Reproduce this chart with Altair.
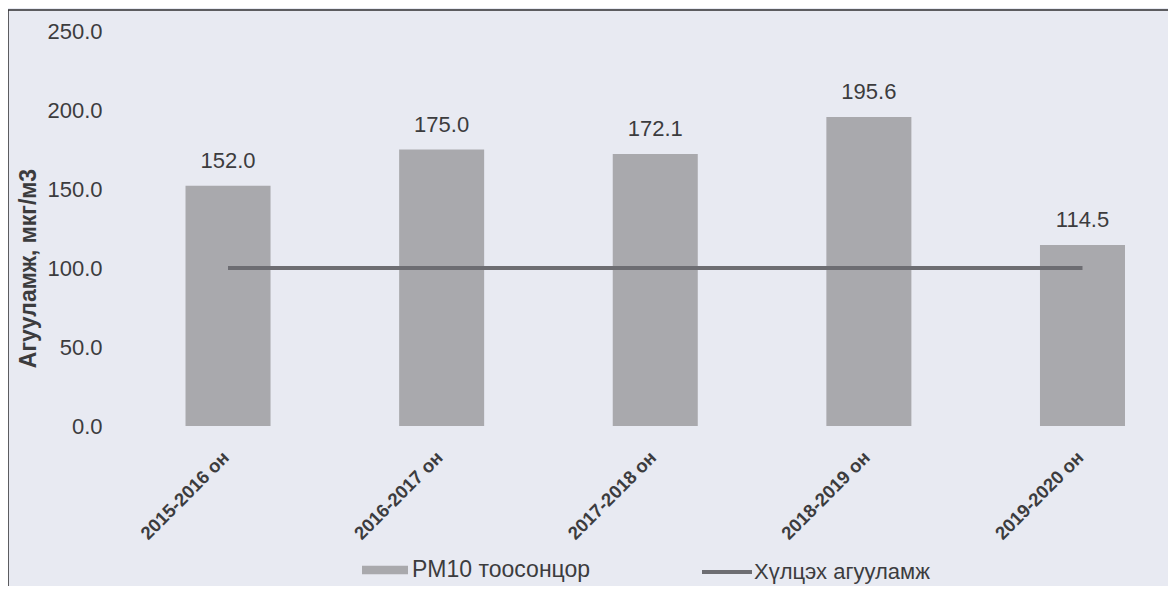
import altair as alt
import pandas as pd

seasons = ["2015-2016 он", "2016-2017 он", "2017-2018 он", "2018-2019 он", "2019-2020 он"]
pm10 = [152.0, 175.0, 172.1, 195.6, 114.5]
norm = [100, 100, 100, 100, 100]
bar_name = "PM10 тоосонцор"
line_name = "Хүлцэх агууламж"

df = pd.DataFrame({"season": seasons, "pm10": pm10, "norm": norm,
                   "bar": [bar_name] * 5, "line": [line_name] * 5})

W, H = 1004, 395
TXT = "#3c3c3e"
FONT = "Liberation Sans"

xenc = alt.X("season:N", sort=seasons, title=None,
             scale=alt.Scale(paddingInner=0.602, paddingOuter=0.151, align=1),
             axis=alt.Axis(labelAngle=-45, labelAlign="right", labelBaseline="middle",
                           labelFontSize=18.5, labelFontWeight="bold", labelColor=TXT,
                           labelPadding=28, labelOffset=-2, domain=False, ticks=False,
                           labelFont=FONT))
yscale = alt.Scale(domain=[0, 250])

bars = alt.Chart(df).mark_bar(clip=False).encode(
    x=xenc,
    y=alt.Y("pm10:Q", scale=yscale, title="Агууламж, мкг/м3",
            axis=alt.Axis(values=[0, 50, 100, 150, 200, 250], format=".1f",
                          labelFontSize=22, labelColor=TXT, labelPadding=19,
                          ticks=False, domain=False, grid=False, labelFont=FONT,
                          titleFontSize=23, titleFontWeight="bold", titleColor=TXT,
                          titleFont=FONT, titleX=-93, titleY=237,
                          titleBaseline="middle", titleAngle=270)),
    color=alt.Color("bar:N", scale=alt.Scale(range=["#a9a9ad"]),
                    legend=alt.Legend(title=None, orient="none", legendX=241, legendY=516,
                                      symbolType="M-1,-0.18L1,-0.18L1,0.18L-1,0.18Z",
                                      symbolSize=2116, symbolStrokeWidth=0,
                                      labelFontSize=23, labelColor=TXT, labelFont=FONT,
                                      labelOffset=4, labelLimit=400, padding=0)),
)

labels = alt.Chart(df).mark_text(fontSize=22, color=TXT, baseline="middle", dy=-25,
                                 font=FONT).encode(
    x=alt.X("season:N", sort=seasons),
    y=alt.Y("pm10:Q", scale=yscale),
    text=alt.Text("pm10:Q", format=".1f"),
)

line = alt.Chart(df).mark_line(strokeWidth=4).encode(
    x=alt.X("season:N", sort=seasons),
    y=alt.Y("norm:Q", scale=yscale),
    stroke=alt.Stroke("line:N", scale=alt.Scale(range=["#6d6d72"]),
                      legend=alt.Legend(title=None, orient="none", legendX=579, legendY=514,
                                        symbolType="stroke", symbolSize=2500,
                                        symbolStrokeWidth=4,
                                        labelFontSize=22, labelColor=TXT, labelFont=FONT,
                                        labelOffset=0, labelLimit=400, padding=0)),
)

frame = alt.Chart(pd.DataFrame({"k": [0]})).mark_rect(
    fill=None, stroke="#2e2e30", strokeWidth=1.5).encode(
    x=alt.value(-113), x2=alt.value(1300), y=alt.value(-21), y2=alt.value(800))

chart = alt.layer(frame, bars, line, labels).resolve_scale(color="independent").properties(
    width=W, height=H,
    autosize=alt.AutoSizeParams(type="none"),
    padding={"left": 113, "top": 23, "right": 43, "bottom": 160},
    background="#e8eaf2",
).configure_view(stroke=None)

chart.save("out.html", embed_options={"renderer": "svg", "actions": False})
